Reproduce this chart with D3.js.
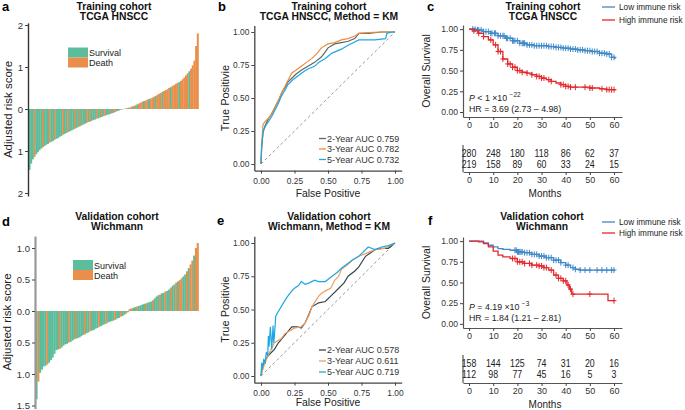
<!DOCTYPE html>
<html><head><meta charset="utf-8">
<script src="https://cdn.jsdelivr.net/npm/d3@7"></script>
<style>
body{margin:0;background:#fff}
svg{display:block}
text{font-family:"Liberation Sans",Arial,sans-serif}
</style>
</head><body>
<svg id="fig" width="685" height="410"></svg>
<script>
// ---------------- DATA ----------------
const statusNames = ["Survival", "Death"];
// panel a: adjusted risk score, TCGA HNSCC (sorted)
const riskA = [-1.45,-1.3,-1.2,-1.14,-1.08,-1.03,-0.98,-0.94,-0.91,-0.88,
 -0.85,-0.83,-0.8,-0.78,-0.76,-0.73,-0.71,-0.69,-0.66,-0.64,
 -0.61,-0.59,-0.57,-0.55,-0.53,-0.51,-0.49,-0.47,-0.45,-0.43,
 -0.41,-0.39,-0.37,-0.35,-0.33,-0.31,-0.3,-0.28,-0.26,-0.25,
 -0.23,-0.22,-0.2,-0.19,-0.17,-0.16,-0.14,-0.13,-0.12,-0.1,
 -0.09,-0.07,-0.05,-0.04,-0.02,-0.01,
 0.005,0.01,0.02,0.03,0.04,0.06,0.07,0.09,0.11,0.13,
 0.15,0.17,0.19,0.2,0.22,0.24,0.25,0.27,0.29,0.31,
 0.34,0.36,0.38,0.41,0.43,0.45,0.47,0.5,0.52,0.55,
 0.57,0.6,0.62,0.64,0.67,0.71,0.75,0.8,0.85,0.9,
 0.96,1.04,1.15,1.5,1.8];
// S = Survival, D = Death
const statusA = ("SSSDSSSSDS"+"SSDSSDSSSS"+"DSSDSSSDSS"+"DSSSDSDSSS"+"DSSDSDSSSD"+"SDSSDS"+
                 "DSDSDDSDSD"+"DDSDDSDDDS"+"DDDSDDDDSD"+"DDDSDDDDDS"+"DDDDD").split("");
// panel d: adjusted risk score, Wichmann (sorted)
const riskD = [-1.4,-1.12,-0.98,-0.93,-0.88,-0.87,-0.85,-0.82,-0.78,-0.74,
 -0.68,-0.62,-0.61,-0.6,-0.58,-0.55,-0.53,-0.52,-0.5,-0.49,
 -0.47,-0.45,-0.44,-0.43,-0.42,-0.4,-0.38,-0.37,-0.35,-0.34,
 -0.32,-0.31,-0.3,-0.28,-0.27,-0.25,-0.24,-0.22,-0.21,-0.2,
 -0.18,-0.17,-0.16,-0.15,-0.14,-0.12,-0.11,-0.09,-0.08,-0.06,
 -0.04,-0.02,
 0.03,0.04,0.05,0.06,0.07,0.08,0.09,0.1,0.11,0.12,
 0.13,0.14,0.15,0.17,0.2,0.23,0.25,0.26,0.28,0.29,
 0.31,0.32,0.34,0.37,0.4,0.42,0.45,0.47,0.49,0.52,
 0.55,0.58,0.63,0.68,0.74,0.8,0.88,1.0,1.08];
const statusD = ("SDSSSSDSSS"+"SSSDSSSSDS"+"SSDSSSSDSS"+"DSSSSDSSSD"+"SSSSDSSDSS"+"DS"+
                 "DDSSDSSSSD"+"SSSDSSSDSS"+"DSSDSSDSDD"+"SSDSDDSDD").split("");
const riskTicksA = [-2,-1,0,1,2];
const riskTicksD = [-1.5,-1,-0.5,0,0.5,1];

// panel b: ROC, TCGA HNSCC
const rocLabels = ["2-Year AUC", "3-Year AUC", "5-Year AUC"];
const aucB = ["0.759", "0.782", "0.732"];
const rocB2fpr = [0,0.005,0.015,0.03,0.055,0.08,0.1,0.13,0.16,0.18,0.2,0.23,0.26,0.3,0.35,0.4,0.45,0.48,0.5,0.55,0.6,0.65,0.7,0.73,0.8,0.9,0.95,1];
const rocB2tpr = [0,0.12,0.24,0.29,0.34,0.38,0.42,0.48,0.55,0.58,0.62,0.65,0.68,0.71,0.74,0.77,0.81,0.85,0.88,0.91,0.92,0.93,0.95,0.99,0.99,1,1,1];
const rocB3fpr = [0,0.005,0.015,0.03,0.06,0.08,0.1,0.13,0.15,0.18,0.2,0.23,0.26,0.3,0.34,0.38,0.42,0.45,0.5,0.55,0.6,0.65,0.7,0.73,0.8,0.9,1];
const rocB3tpr = [0,0.15,0.3,0.32,0.35,0.38,0.42,0.48,0.53,0.59,0.63,0.69,0.71,0.74,0.77,0.8,0.84,0.88,0.91,0.92,0.94,0.95,0.97,0.99,0.995,1,1];
const rocB5fpr = [0,0.005,0.017,0.035,0.055,0.08,0.1,0.13,0.15,0.18,0.2,0.24,0.28,0.32,0.35,0.4,0.43,0.48,0.53,0.6,0.65,0.73,0.8,0.85,0.93,0.935,0.94,0.98,1];
const rocB5tpr = [0,0.14,0.25,0.29,0.32,0.36,0.4,0.46,0.51,0.56,0.6,0.64,0.67,0.7,0.72,0.74,0.77,0.8,0.84,0.87,0.9,0.94,0.94,0.94,0.95,0.97,0.99,1,1];
// panel e: ROC, Wichmann
const aucE = ["0.578", "0.611", "0.719"];
const rocE2fpr = [0,0.01,0.03,0.06,0.1,0.13,0.18,0.23,0.27,0.3,0.33,0.36,0.38,0.43,0.48,0.53,0.58,0.62,0.65,0.7,0.73,0.78,0.85,0.9,0.95,1];
const rocE2tpr = [0,0.06,0.12,0.16,0.2,0.25,0.31,0.37,0.37,0.36,0.4,0.47,0.52,0.55,0.56,0.61,0.66,0.7,0.75,0.79,0.82,0.9,0.95,0.96,0.96,1];
const rocE3fpr = [0,0.02,0.05,0.1,0.15,0.18,0.25,0.3,0.33,0.36,0.38,0.43,0.45,0.48,0.52,0.55,0.58,0.6,0.65,0.68,0.73,0.78,0.85,0.92,1];
const rocE3tpr = [0,0.07,0.15,0.25,0.28,0.32,0.36,0.37,0.4,0.46,0.52,0.6,0.62,0.64,0.66,0.72,0.75,0.8,0.84,0.87,0.9,0.92,0.95,0.96,1];
const rocE5fpr = [0,0.005,0.01,0.02,0.03,0.04,0.05,0.055,0.06,0.07,0.08,0.09,0.095,0.1,0.11,0.12,0.15,0.18,0.2,0.23,0.25,0.28,0.3,0.33,0.36,0.4,0.43,0.48,0.53,0.57,0.6,0.64,0.68,0.73,0.76,0.8,0.85,0.9,0.95,1];
const rocE5tpr = [0,0.1,0.05,0.12,0.1,0.18,0.15,0.3,0.22,0.37,0.2,0.38,0.25,0.3,0.45,0.47,0.52,0.57,0.6,0.64,0.66,0.68,0.71,0.69,0.7,0.72,0.71,0.71,0.75,0.78,0.81,0.84,0.87,0.9,0.93,0.97,0.95,0.97,0.98,1];
const rocTicks = [0, 0.25, 0.5, 0.75, 1];

// panel c: KM, TCGA HNSCC
const groupNames = ["Low immune risk", "High immune risk"];
const kmCLowT = [0,3,6,9,12,15,18,21,24,27,30,33,36,39,42,45,48,51,54,57,59,60.4];
const kmCLowS = [1,0.99,0.97,0.95,0.92,0.89,0.86,0.83,0.81,0.8,0.8,0.79,0.78,0.77,0.76,0.75,0.74,0.73,0.71,0.7,0.66,0.64];
const kmCHighT = [0,2,4,6,8,10,12,14,16,18,20,22,24,26,28,30,32,34,36,38,40,42,46,50,54,57,60.4];
const kmCHighS = [1,0.98,0.95,0.91,0.87,0.81,0.73,0.64,0.58,0.54,0.5,0.48,0.47,0.45,0.43,0.41,0.39,0.37,0.35,0.33,0.31,0.3,0.3,0.29,0.28,0.27,0.26];
const censCLow = [1.5,2.5,3.5,4,5,6,7,8,9,9.5,10.5,11,12,13,14,14.5,15.5,16,17,18,18.5,19,20,21,22,22.5,23,24,25,26,27,28,29,30,31,32,33,34,35,36,37,38,39,40,41,42,43,44,45,46,47,48,49,50,51,52,53,54,55,56,57,58,59,60];
const censCHigh = [2,4,6,9,11,12,13,14,16,17,18,19,20,21,22,24,26,28,29,30,31,33,34,38,39,40,41,42,44,48,50,51,55,57,58,59,60];
const atRiskCLow = [280, 248, 180, 118, 86, 62, 37];
const atRiskCHigh = [219, 158, 89, 60, 33, 24, 15];
// panel f: KM, Wichmann
const kmFLowT = [0,4,6,8,10,12,14,17,20,23,26,29,32,35,38,40,42,44,46,60.4];
const kmFLowS = [1,1,0.98,0.95,0.93,0.91,0.9,0.89,0.87,0.86,0.84,0.82,0.8,0.77,0.74,0.71,0.68,0.66,0.65,0.65];
const kmFHighT = [0,4,6,8,10,12,14,17,20,23,26,29,31,33,35,37,39,40.5,41.5,42.5,57.5,60.4];
const kmFHighS = [1,0.99,0.97,0.93,0.88,0.83,0.81,0.79,0.75,0.73,0.71,0.7,0.68,0.65,0.59,0.55,0.52,0.47,0.42,0.36,0.28,0.28];
const censFLow = [19,19.5,20,20.5,21,21.5,22,23,24,25,26,27,28,29,30,31,32,33,34,35,36,37,38,40,41,43,44,46,48,50,53,55,57,59,60];
const censFHigh = [18,19,20,21,22,23,25,26,28,29,30,31,32,34,36,37,38,39,40,41,42,43,50,60];
const atRiskFLow = [158, 144, 125, 74, 31, 20, 16];
const atRiskFHigh = [112, 98, 77, 45, 16, 5, 3];
const monthTicks = [0, 10, 20, 30, 40, 50, 60];

// ---------------- STYLE ----------------
const TEAL = "#5cbd9d", ORANGE = "#e98f4b";
const BLUE = "#3f89c8", RED = "#e4272b";

const svg = d3.select("#fig");
svg.append("rect").attr("width", 685).attr("height", 410).attr("fill", "#fff");

function label(x, y, s, o = {}) {
  const t = svg.append("text").attr("x", x).attr("y", y).text(s)
    .attr("font-size", o.size || 10)
    .attr("text-anchor", o.anchor || "start")
    .attr("fill", o.fill || "#1a1a1a");
  if (o.bold) t.attr("font-weight", "bold");
  if (o.rotate) t.attr("transform", `rotate(-90,${x},${y})`);
  return t;
}
// condensed text (Myriad-like look) drawn with a horizontal scale
function narrow(x, y, s, size, sx, anchor) {
  return svg.append("text").attr("x", 0).attr("y", 0)
    .attr("transform", `translate(${x},${y}) scale(${sx},1)`)
    .attr("font-size", size).attr("text-anchor", anchor || "start")
    .attr("fill", "#222").text(s);
}
function styleAxis(g, fs, domColor, domW) {
  g.attr("font-size", null).attr("font-family", null);
  g.selectAll("text").attr("font-size", fs).attr("fill", "#333");
  g.selectAll(".tick line").attr("stroke", "#444");
  g.select(".domain").attr("stroke", domColor).attr("stroke-width", domW);
}

// ---------------- BAR PANELS ----------------
function barPanel(vals, stat, axisX, xr, y, ticks, fmt, axisColor, axisW, leg) {
  const x = d3.scaleBand().domain(d3.range(vals.length)).range(xr);
  svg.append("g").selectAll("rect").data(vals).join("rect")
    .attr("x", (d, i) => x(i)).attr("width", x.bandwidth() + 0.3)
    .attr("y", d => Math.min(y(0), y(d)))
    .attr("height", d => Math.abs(y(d) - y(0)))
    .attr("fill", (d, i) => stat[i] === "D" ? ORANGE : TEAL);
  const g = svg.append("g").attr("transform", `translate(${axisX},0)`)
    .call(d3.axisLeft(y).tickValues(ticks).tickFormat(fmt).tickSize(3).tickSizeOuter(0).tickPadding(2));
  styleAxis(g, 9.5, axisColor, axisW);
  const lg = svg.append("g").attr("transform", `translate(${leg[0]},${leg[1]})`);
  [TEAL, ORANGE].forEach((c, i) => {
    lg.append("rect").attr("x", 0).attr("y", i * 10).attr("width", 20).attr("height", 10).attr("fill", c);
    lg.append("text").attr("x", 21).attr("y", i * 10 + 8.5).text(statusNames[i])
      .attr("font-size", 9).attr("fill", "#222");
  });
}
const yA = d3.scaleLinear().domain([-2.07, 2.05]).range([109 + 42 * 2.07, 109 - 42 * 2.05]);
barPanel(riskA, statusA, 28, [28.5, 198.5], yA, riskTicksA, d => Math.abs(d), "#333", 1.4, [68, 47.5]);
const yD = d3.scaleLinear().domain([-1.55, 1.19]).range([311 + 63 * 1.55, 311 - 63 * 1.19]);
barPanel(riskD, statusD, 35, [35.5, 198.5], yD, riskTicksD, d => d3.format(".1f")(Math.abs(d)), "#999", 2.2, [73, 260]);

// ---------------- ROC PANELS ----------------
function rocPanel(series, colors, y, legY, auc) {
  const x = d3.scaleLinear().domain([-0.05, 1.05]).range([254.3, 401.7]);
  const g = svg.append("g");
  g.append("line").attr("x1", x(0)).attr("y1", y(0)).attr("x2", x(1)).attr("y2", y(1))
    .attr("stroke", "#9a9a9a").attr("stroke-width", 1).attr("stroke-dasharray", "3,2.5");
  const line = d3.line().x(d => x(d[0])).y(d => y(d[1]));
  series.forEach((s, i) => {
    g.append("path").datum(s[0].map((f, k) => [f, s[1][k]])).attr("d", line)
      .attr("fill", "none").attr("stroke", colors[i]).attr("stroke-width", 1.2);
  });
  const ay = svg.append("g").attr("transform", `translate(${x(-0.05)},0)`)
    .call(d3.axisLeft(y).tickValues(rocTicks).tickFormat(d3.format(".2f")).tickSize(3).tickSizeOuter(0).tickPadding(2));
  styleAxis(ay, 8.4, "#444", 1.3);
  const ax = svg.append("g").attr("transform", `translate(0,${y(-0.05)})`)
    .call(d3.axisBottom(x).tickValues(rocTicks).tickFormat(d3.format(".2f")).tickSize(3).tickSizeOuter(0).tickPadding(4));
  styleAxis(ax, 8.4, "#444", 1.3);
  legY.forEach((ly, i) => {
    svg.append("line").attr("x1", 319).attr("x2", 326).attr("y1", ly).attr("y2", ly)
      .attr("stroke", colors[i]).attr("stroke-width", 1.3);
    label(327, ly + 3.2, rocLabels[i] + " " + auc[i], { size: 9, fill: "#333" });
  });
}
const yB = d3.scaleLinear().domain([-0.05, 1.05]).range([170.6, 25.4]);
rocPanel([[rocB2fpr, rocB2tpr], [rocB3fpr, rocB3tpr], [rocB5fpr, rocB5tpr]],
  ["#5a676c", "#ec8d40", "#1ea8e2"], yB, [138.5, 149, 159.5], aucB);
const yE = d3.scaleLinear().domain([-0.05, 1.05]).range([382.65, 236.35]);
rocPanel([[rocE2fpr, rocE2tpr], [rocE3fpr, rocE3tpr], [rocE5fpr, rocE5tpr]],
  ["#34464c", "#f0a062", "#1ea8e2"], yE, [350, 361, 372], aucE);

// ---------------- KM PANELS ----------------
function kmPanel(curves, cens, y, axisBottom, riskRows, riskAxisY, riskTop, legY, pText, hrText) {
  const x = d3.scaleLinear().domain([-2.5, 63.3]).range([463, 622]);
  const line = d3.line().x(d => x(d[0])).y(d => y(d[1])).curve(d3.curveStepAfter);
  const colors = [BLUE, RED];
  curves.forEach((c, i) => {
    const pts = c[0].map((t, k) => [t, c[1][k]]);
    svg.append("path").datum(pts).attr("d", line).attr("fill", "none")
      .attr("stroke", colors[i]).attr("stroke-width", 1.3);
    const surv = t => { let s = 1; c[0].forEach((tt, k) => { if (tt <= t) s = c[1][k]; }); return s; };
    const g = svg.append("g").attr("stroke", colors[i]).attr("stroke-width", 1);
    cens[i].forEach(t => {
      const cx = x(t), cy = y(surv(t));
      g.append("line").attr("x1", cx).attr("x2", cx).attr("y1", cy - 3).attr("y2", cy + 3);
      g.append("line").attr("x1", cx - 2.5).attr("x2", cx + 2.5).attr("y1", cy).attr("y2", cy);
    });
  });
  const ay = svg.append("g").attr("transform", "translate(463,0)")
    .call(d3.axisLeft(y).tickValues([0, 0.25, 0.5, 0.75, 1]).tickFormat(d3.format(".2f")).tickSize(3).tickSizeOuter(0).tickPadding(2));
  styleAxis(ay, 8.6, "#555", 1.2);
  const ax = svg.append("g").attr("transform", `translate(0,${axisBottom})`)
    .call(d3.axisBottom(x).tickValues(monthTicks).tickSize(3).tickSizeOuter(0).tickPadding(2));
  styleAxis(ax, 9, "#555", 1.2);
  // p / HR
  const p = svg.append("text").attr("x", 469).attr("y", pText[0]).attr("font-size", 8.8).attr("fill", "#222");
  p.append("tspan").attr("font-style", "italic").text("P");
  p.append("tspan").text(pText[1]);
  p.append("tspan").attr("dy", -4).attr("font-size", 6.5).text(pText[2]);
  label(469, hrText[0], hrText[1], { size: 8.8, fill: "#222" });
  // legend
  groupNames.forEach((n, i) => {
    svg.append("line").attr("x1", 602).attr("x2", 615).attr("y1", legY[i]).attr("y2", legY[i])
      .attr("stroke", colors[i]).attr("stroke-width", 1.3);
    narrow(619, legY[i] + 3.4, n, 9.8, 0.84);
  });
  // risk table
  svg.append("line").attr("x1", 463).attr("x2", 463).attr("y1", riskTop).attr("y2", riskAxisY)
    .attr("stroke", "#555").attr("stroke-width", 1.2);
  const rx = svg.append("g").attr("transform", `translate(0,${riskAxisY})`)
    .call(d3.axisBottom(x).tickValues(monthTicks).tickSize(3).tickSizeOuter(0).tickPadding(2));
  styleAxis(rx, 9, "#555", 1.2);
  riskRows.forEach((row, r) => {
    row.forEach((d, k) => narrow(x(monthTicks[k]), riskTop + 12 + r * 10.8, d, 11, 0.8, "middle"));
  });
  label(545, riskAxisY + 25, "Months", { size: 10, anchor: "middle", fill: "#222" });
}
const yC = d3.scaleLinear().domain([-0.06, 1.05]).range([117, 25]);
kmPanel([[kmCLowT, kmCLowS], [kmCHighT, kmCHighS]], [censCLow, censCHigh], yC, 117,
  [atRiskCLow, atRiskCHigh], 172, 145, [7, 20], [101, " < 1 \u00d710 ", "\u221222"], [111.5, "HR = 3.69 (2.73 \u2013 4.98)"]);
const yF = d3.scaleLinear().domain([-0.05, 1.05]).range([328, 237]);
kmPanel([[kmFLowT, kmFLowS], [kmFHighT, kmFHighS]], [censFLow, censFHigh], yF, 328,
  [atRiskFLow, atRiskFHigh], 383, 355, [222, 233], [310, " = 4.19 \u00d710 ", "\u22123"], [321, "HR = 1.84 (1.21 \u2013 2.81)"]);

// ---------------- TITLES & AXIS LABELS ----------------
const titles = [
  [114, 9.5, "Training cohort", "TCGA HNSCC"],
  [329, 9.5, "Training cohort", "TCGA HNSCC, Method = KM"],
  [543, 9.5, "Training cohort", "TCGA HNSCC"],
  [117, 219.5, "Validation cohort", "Wichmann"],
  [329, 219.5, "Validation cohort", "Wichmann, Method = KM"],
  [542, 219.5, "Validation cohort", "Wichmann"]
];
titles.forEach(t => {
  label(t[0], t[1], t[2], { size: 10.3, bold: true, anchor: "middle", fill: "#111" });
  label(t[0], t[1] + 10.3, t[3], { size: 10.3, bold: true, anchor: "middle", fill: "#111" });
});
[["a", 2, 11], ["b", 218, 11], ["c", 427, 11], ["d", 2, 226], ["e", 217, 225], ["f", 428, 225]]
  .forEach(l => label(l[1], l[2], l[0], { size: 13, bold: true, fill: "#000" }));
label(11.5, 109.5, "Adjusted risk score", { size: 11.5, anchor: "middle", rotate: true, fill: "#222" });
label(10.5, 322, "Adjusted risk score", { size: 11.5, anchor: "middle", rotate: true, fill: "#222" });
label(229, 98, "True Positivie", { size: 11, anchor: "middle", rotate: true, fill: "#222" });
label(229, 309.5, "True Positivie", { size: 11, anchor: "middle", rotate: true, fill: "#222" });
label(328, 197, "False Positive", { size: 10.4, anchor: "middle", fill: "#222" });
label(328, 406, "False Positive", { size: 10.4, anchor: "middle", fill: "#222" });
label(430, 71, "Overall Survival", { size: 10.5, anchor: "middle", rotate: true, fill: "#222" });
label(430, 282.5, "Overall Survival", { size: 10.5, anchor: "middle", rotate: true, fill: "#222" });
</script>
</body></html>
